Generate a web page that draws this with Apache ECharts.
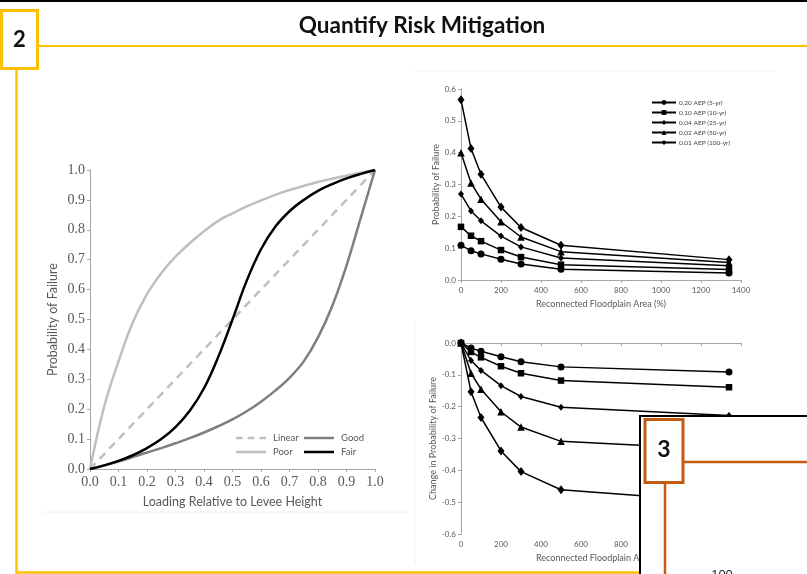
<!DOCTYPE html>
<html><head><meta charset="utf-8">
<script src="https://cdn.jsdelivr.net/npm/echarts@6/dist/echarts.min.js"></script>
<style>html,body{margin:0;padding:0;background:#fff}#c{width:807px;height:574px}</style>
</head><body><div id="c"></div>
<script>
// ---- Left chart: fragility curves ----
const loadX = [0,0.05,0.1,0.15,0.2,0.25,0.3,0.35,0.4,0.45,0.5,0.55,0.6,0.65,0.7,0.75,0.8,0.85,0.9,0.95,1.0];
const poorY = [0,0.21,0.36,0.49,0.585,0.655,0.71,0.755,0.795,0.83,0.855,0.878,0.898,0.917,0.933,0.947,0.96,0.971,0.981,0.991,1.0];
const fairY = [0,0.012,0.027,0.046,0.07,0.1,0.14,0.195,0.27,0.375,0.5,0.63,0.735,0.81,0.862,0.9,0.93,0.953,0.972,0.987,1.0];
const goodY = [0,0.012,0.025,0.04,0.055,0.07,0.086,0.103,0.122,0.143,0.166,0.193,0.225,0.262,0.305,0.36,0.44,0.545,0.68,0.84,1.0];
const linearX = [0,1];
const linearY = [0,1];

// ---- Right charts: floodplain reconnection ----
const floodX = [0,50,100,200,300,500,1340];
const aepNames = ['0.20 AEP (5-yr)','0.10 AEP (10-yr)','0.04 AEP (25-yr)','0.02 AEP (50-yr)','0.01 AEP (100-yr)'];
const pf5   = [0.109,0.092,0.082,0.065,0.050,0.034,0.022];
const pf10  = [0.167,0.139,0.122,0.094,0.072,0.048,0.033];
const pf25  = [0.270,0.217,0.186,0.138,0.104,0.069,0.045];
const pf50  = [0.400,0.305,0.254,0.183,0.135,0.089,0.055];
const pf100 = [0.566,0.413,0.332,0.229,0.165,0.109,0.064];
const d5   = [0,-0.016,-0.026,-0.043,-0.059,-0.075,-0.091];
const d10  = [0,-0.028,-0.045,-0.073,-0.095,-0.118,-0.139];
const d25  = [0,-0.055,-0.086,-0.134,-0.168,-0.202,-0.228];
const d50  = [0,-0.095,-0.145,-0.216,-0.264,-0.309,-0.335];
const d100 = [0,-0.153,-0.234,-0.339,-0.404,-0.461,-0.500];

const titleText = 'Quantify Risk Mitigation';

const zip = (xs, ys) => xs.map((x, i) => [x, ys[i]]);
const gray = '#595959';
const frame = '#A6A6A6';
const symbols = ['circle','rect','diamond','triangle','diamond'];
const symSizes = [7,6.5,[6,7],7.5,[7,9]];

function axisPair(gridIndex, min, max, interval, fmt, fontSize, fontFamily, isX, name, nameGap, nameSize) {
  const main = {
    type: 'value', gridIndex, min, max, interval,
    position: isX ? 'bottom' : 'left',
    axisLine: {show: true, lineStyle: {color: frame, width: 1}},
    axisTick: {show: true, inside: false, length: 3, lineStyle: {color: frame}},
    splitLine: {show: false},
    axisLabel: {color: gray, fontSize, fontFamily, formatter: fmt, margin: isX ? 6 : 5},
    name, nameLocation: 'middle', nameGap,
    nameTextStyle: {color: gray, fontSize: nameSize, fontFamily: 'Lato'}
  };
  if (!isX) main.nameRotate = 90;
  const dup = {
    type: 'value', gridIndex, min, max, interval,
    position: isX ? 'top' : 'right',
    axisLine: {show: true, lineStyle: {color: frame, width: 1}},
    axisTick: {show: true, inside: true, length: 3, lineStyle: {color: frame}},
    splitLine: {show: false},
    axisLabel: {show: false}
  };
  return [main, dup];
}

const f1 = v => v.toFixed(1);
const fInt = v => String(v);

const xAxes = [
  ...axisPair(0, 0, 1, 0.1, f1, 14, 'Liberation Serif', true, 'Loading Relative to Levee Height', 26, 12.5),
  ...axisPair(1, 0, 1400, 200, fInt, 8, 'Lato', true, 'Reconnected Floodplain Area (%)', 20, 9),
  ...axisPair(2, 0, 1400, 200, fInt, 8, 'Lato', true, 'Reconnected Floodplain Area (%)', 20, 9)
];
const yAxes = [
  ...axisPair(0, 0, 1, 0.1, f1, 14, 'Liberation Serif', false, 'Probability of Failure', 31, 12.5),
  ...axisPair(1, 0, 0.6, 0.1, f1, 8, 'Lato', false, 'Probability of Failure', 19, 9),
  ...axisPair(2, -0.6, 0, 0.1, f1, 8, 'Lato', false, 'Change in Probability of Failure', 21, 9)
];

const series = [
  {name:'Linear', type:'line', xAxisIndex:0, yAxisIndex:0, data: zip(linearX, linearY), symbol:'none',
   lineStyle:{color:'#BFBFBF', width:2.5, type:[8,6]}, itemStyle:{color:'#BFBFBF'}},
  {name:'Poor', type:'line', xAxisIndex:0, yAxisIndex:0, data: zip(loadX, poorY), symbol:'none', smooth:0.4,
   lineStyle:{color:'#BFBFBF', width:2.5}, itemStyle:{color:'#BFBFBF'}},
  {name:'Good', type:'line', xAxisIndex:0, yAxisIndex:0, data: zip(loadX, goodY), symbol:'none', smooth:0.4,
   lineStyle:{color:'#7F7F7F', width:2.5}, itemStyle:{color:'#7F7F7F'}},
  {name:'Fair', type:'line', xAxisIndex:0, yAxisIndex:0, data: zip(loadX, fairY), symbol:'none', smooth:0.4,
   lineStyle:{color:'#000000', width:2.5}, itemStyle:{color:'#000000'}}
];
const topSets = [pf5, pf10, pf25, pf50, pf100];
const botSets = [d5, d10, d25, d50, d100];
topSets.forEach((ys, i) => series.push({
  name: aepNames[i], type:'line', xAxisIndex:2, yAxisIndex:2, data: zip(floodX, ys),
  symbol: symbols[i], symbolSize: symSizes[i], showSymbol:true,
  lineStyle:{color:'#000', width:1.5}, itemStyle:{color:'#000'}
}));
botSets.forEach((ys, i) => series.push({
  name: aepNames[i], type:'line', xAxisIndex:4, yAxisIndex:4, data: zip(floodX, ys),
  symbol: symbols[i], symbolSize: symSizes[i], showSymbol:true,
  lineStyle:{color:'#000', width:1.5}, itemStyle:{color:'#000'}
}));

const legTxt = {color: gray, fontSize: 9.5, fontFamily: 'Lato'};
const solidIcon = 'path://M0,0h36v3h-36z';
const dashIcon = 'path://M0,0h8v3h-8z M14,0h8v3h-8z M28,0h8v3h-8z';
function oneLegend(name, left, top, icon) {
  return {data:[{name, icon}], left, top, itemWidth:34, itemHeight:2.5, itemGap:0, padding:0,
          textStyle: legTxt, selectedMode:false};
}
const legends = [
  oneLegend('Linear', 236, 433, dashIcon),
  oneLegend('Good', 304, 433, solidIcon),
  oneLegend('Poor', 236, 447, solidIcon),
  oneLegend('Fair', 304, 447, solidIcon),
  {data: aepNames, orient:'vertical', left: 651, top: 99, itemWidth: 24, itemHeight: 6, itemGap: 3, padding:0,
   textStyle:{color:'#404040', fontSize:6.5, fontFamily:'Lato', padding:[0,0,0,-2]}, selectedMode:false}
];

const Y = '#FFC000', O = '#C55A11';
const graphic = [
  {type:'rect', shape:{x:0, y:0, width:807, height:2}, style:{fill:'#000'}, z:100},
  // faint chart image borders
  {type:'polyline', shape:{points:[[42,512],[412,512]]}, style:{stroke:'#F0F0F0', lineWidth:1, fill:null}, z:1},
  {type:'polyline', shape:{points:[[415,71],[775,71]]}, style:{stroke:'#F0F0F0', lineWidth:1, fill:null}, z:1},
  {type:'polyline', shape:{points:[[415,320],[415,565]]}, style:{stroke:'#F0F0F0', lineWidth:1, fill:null}, z:1},
  // section 2 frame
  {type:'line', shape:{x1:38, y1:46, x2:807, y2:46}, style:{stroke:Y, lineWidth:2}, z:100},
  {type:'line', shape:{x1:16.5, y1:70, x2:16.5, y2:574}, style:{stroke:Y, lineWidth:2.5}, z:100},
  {type:'line', shape:{x1:16, y1:572.5, x2:807, y2:572.5}, style:{stroke:Y, lineWidth:2.5}, z:100},
  {type:'rect', shape:{x:1.5, y:10.5, width:36, height:58}, style:{fill:'#fff', stroke:Y, lineWidth:3}, z:101},
  {type:'text', x:19.5, y:40, style:{text:'2', fill:'#111', font:'bold 22px Lato', textAlign:'center', textVerticalAlign:'middle'}, z:102},
  {type:'text', x:422, y:26, style:{text:titleText, fill:'#111', font:'bold 22.5px Lato', textAlign:'center', textVerticalAlign:'middle'}, z:102},
  // section 3 overlay
  {type:'rect', shape:{x:640, y:416, width:200, height:200}, style:{fill:'#fff', stroke:'#000', lineWidth:2}, z:110},
  {type:'line', shape:{x1:684, y1:462, x2:807, y2:462}, style:{stroke:O, lineWidth:2.5}, z:111},
  {type:'line', shape:{x1:665, y1:483, x2:665, y2:574}, style:{stroke:O, lineWidth:2.5}, z:111},
  {type:'rect', shape:{x:645, y:419.5, width:38, height:63}, style:{fill:'#fff', stroke:O, lineWidth:3}, z:112},
  {type:'text', x:664, y:450, style:{text:'3', fill:'#111', font:'bold 23px Lato', textAlign:'center', textVerticalAlign:'middle'}, z:113},
  {type:'text', x:722, y:569, style:{text:'100', fill:'#222', font:'13px Liberation Sans', textAlign:'center', textVerticalAlign:'top'}, z:113}
];

const option = {
  animation: false,
  backgroundColor: '#fff',
  grid: [
    {left:90, top:170, width:285, height:299},
    {left:461, top:89, width:280, height:191},
    {left:461, top:343, width:280, height:191}
  ],
  xAxis: xAxes,
  yAxis: yAxes,
  legend: legends,
  series,
  graphic
};
const chart = echarts.init(document.getElementById('c'), null, {renderer:'canvas'});
chart.setOption(option);
</script></body></html>
